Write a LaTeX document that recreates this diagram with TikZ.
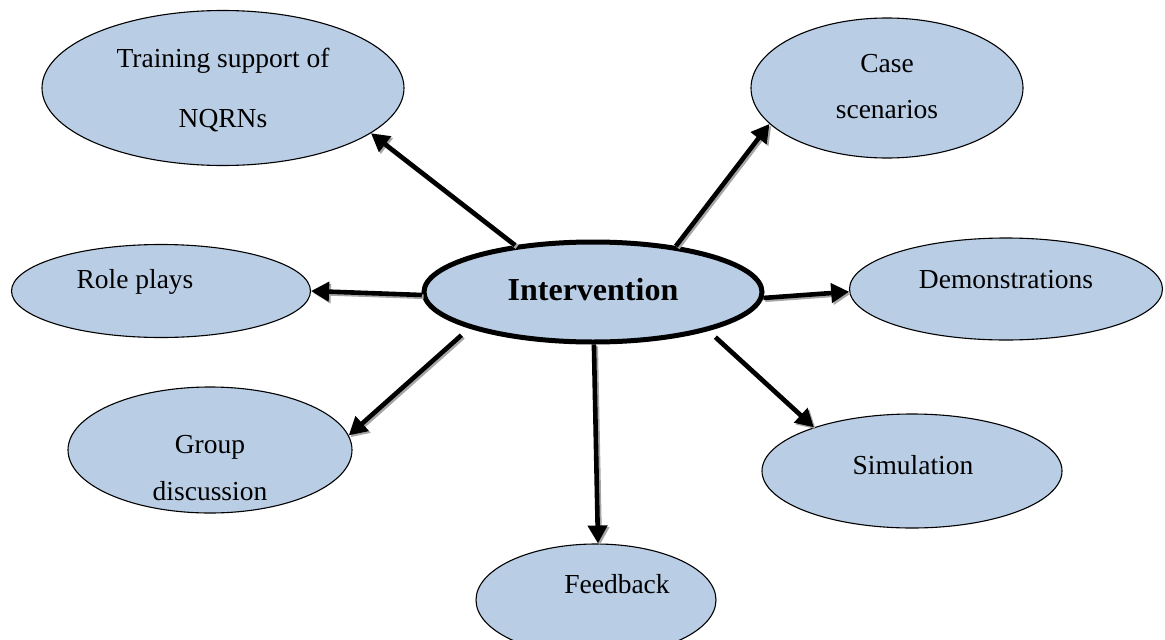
\documentclass[tikz,border=0pt]{standalone}
\usepackage{fontspec}
\setmainfont{Liberation Serif}
\usetikzlibrary{shapes.geometric,arrows.meta}
\definecolor{bubble}{HTML}{B9CDE5}
\tikzset{
  bub/.style={ellipse, draw=black, line width=1.1pt, fill=bubble, inner sep=0pt},
  hub/.style={ellipse, draw=black, line width=5pt, fill=bubble, inner sep=0pt},
  lbl/.style={anchor=base, inner sep=0pt, font=\fontsize{27.5}{32}\selectfont},
  hublbl/.style={anchor=base, inner sep=0pt, font=\fontsize{32}{38}\selectfont\bfseries},
  arr/.style={line width=4.6pt, -{Triangle[length=18pt,width=19pt]}},
  arrshadow/.style={line width=4.6pt, draw=black!35, -{Triangle[length=18pt,width=19pt]},
    transform canvas={xshift=1.8pt,yshift=-1.8pt}}
}
\begin{document}
\begin{tikzpicture}[x=1pt,y=-1pt]
\useasboundingbox (0,0) rectangle (1165,640);
\clip (0,0) rectangle (1165,640);

% outer bubbles
\node[bub, minimum width=362pt, minimum height=155pt] (train) at (223,88) {};
\node[bub, minimum width=272pt, minimum height=140pt] (case) at (887,88) {};
\node[bub, minimum width=299pt, minimum height=93pt] (role) at (161,291) {};
\node[bub, minimum width=313pt, minimum height=102pt] (demo) at (1006,289) {};
\node[bub, minimum width=284pt, minimum height=126pt] (group) at (210,450) {};
\node[bub, minimum width=300pt, minimum height=114pt] (sim) at (912,471) {};
\node[bub, minimum width=240pt, minimum height=112pt] (feed) at (596,600) {};

% central bubble
\node[hub, minimum width=338pt, minimum height=100pt] (iv) at (593,292) {};

% labels
\node[lbl] (trainA) at (223,67) {Training support of};
\node[lbl] (trainB) at (223,127) {NQRNs};
\node[lbl] (caseA) at (887,72) {Case};
\node[lbl] (caseB) at (887,118) {scenarios};
\node[lbl] (roleT) at (135,288) {Role plays};
\node[lbl] (demoT) at (1006,288) {Demonstrations};
\node[lbl] (groupA) at (210,453) {Group};
\node[lbl] (groupB) at (210,500) {discussion};
\node[lbl] (simT) at (913,474) {Simulation};
\node[lbl] (feedT) at (617,593) {Feedback};
\node[hublbl] (ivT) at (593,300) {Intervention};

% spokes from the central bubble (start anchor, offset, end anchor)
\foreach \s/\dx/\dy/\t in {iv.149/0/0/train.-17, iv.29/0/0/case.197, iv.181/0/0/role.0,
                   iv.-2/0/0/demo.181, iv.198/-14/5/group.6,
                   iv.-89/0/0/feed.88, iv.-20/12/5/sim.156}{
  \draw[arrshadow] ([shift={(\dx,\dy)}]\s) -- (\t);
  \draw[arr] ([shift={(\dx,\dy)}]\s) -- (\t);
}
\end{tikzpicture}
\end{document}
